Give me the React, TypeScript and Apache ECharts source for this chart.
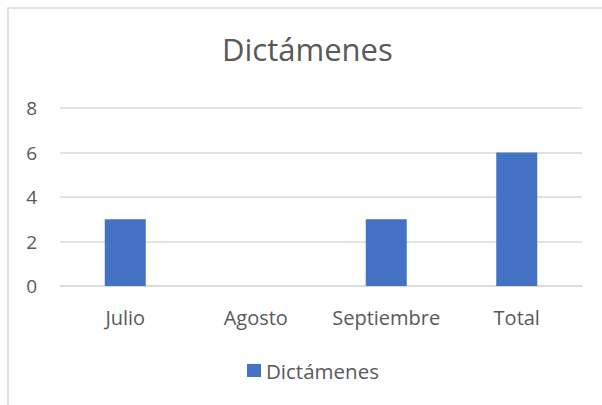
import React, { useEffect, useRef } from "react";
import * as echarts from "echarts";

const categories = ["Julio", "Agosto", "Septiembre", "Total"];
const values = [3, 0, 3, 6];
const seriesName = "Dictámenes";
const titleText = "Dictámenes";

export default function App() {
  const ref = useRef<HTMLDivElement>(null);
  useEffect(() => {
    if (!ref.current) return;
    const chart = echarts.init(ref.current, null, { renderer: "svg" });
    const font = "'Open Sans', sans-serif";
    chart.setOption({
      animation: false,
      backgroundColor: "#ffffff",
      textStyle: { fontFamily: font },
      graphic: [
        {
          type: "rect",
          shape: { x: 8, y: 8, width: 700, height: 500 },
          style: { fill: "none", stroke: "#d9d9d9", lineWidth: 1.5 },
          silent: true,
        },
      ],
      title: {
        text: titleText,
        left: 222,
        top: 33,
        padding: 0,
        textStyle: { fontFamily: font, fontSize: 31, fontWeight: "normal", color: "#595959" },
      },
      legend: {
        data: [seriesName],
        top: 360,
        left: 247,
        padding: 0,
        itemWidth: 14,
        itemHeight: 13,
        icon: "rect",
        textStyle: { fontFamily: font, fontSize: 20.5, color: "#595959" },
      },
      grid: { left: 60, right: 20, top: 108, bottom: 119, containLabel: false },
      xAxis: {
        type: "category",
        data: categories,
        axisLine: { show: true, lineStyle: { color: "#d9d9d9", width: 1.5 } },
        axisTick: { show: false },
        axisLabel: { interval: 0, hideOverlap: false, fontFamily: font, fontSize: 20, color: "#595959", margin: 21 },
      },
      yAxis: {
        type: "value",
        min: 0,
        max: 8,
        interval: 2,
        axisLine: { show: false },
        axisTick: { show: false },
        axisLabel: { fontFamily: font, fontSize: 19, color: "#595959", margin: 23 },
        splitLine: { lineStyle: { color: "#d9d9d9", width: 1.5 } },
      },
      series: [
        {
          name: seriesName,
          type: "bar",
          data: values,
          barWidth: 41,
          itemStyle: { color: "#4472C4" },
        },
      ],
    });
    return () => chart.dispose();
  }, []);
  return (
    <div
      ref={ref}
      style={{ position: "absolute", left: 0, top: 0, width: 602, height: 405 }}
    />
  );
}
